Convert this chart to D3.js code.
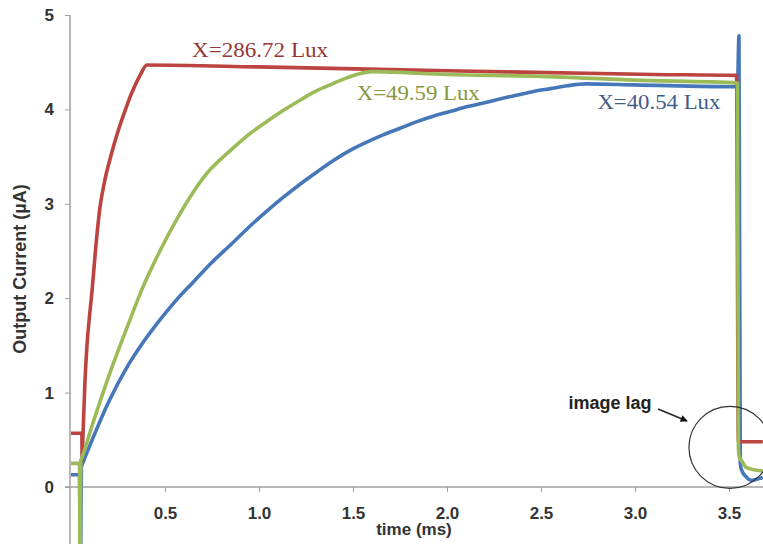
<!DOCTYPE html>
<html>
<head>
<meta charset="utf-8">
<script src="https://cdn.jsdelivr.net/npm/d3@7"></script>
<style>
  body { margin: 0; background: #fff; }
  .tick text { font-family: "Liberation Sans", Arial, sans-serif; font-weight: bold; font-size: 17px; fill: #333; }
</style>
</head>
<body>
<script>
// time (ms) , current (uA)
const red286 = [
  [0, 0.57], [0.058, 0.57], [0.059, 0.28], [0.062, 0.45], [0.065, 0.62], [0.074, 1.1], [0.085, 1.5],
  [0.098, 1.8], [0.112, 2.08], [0.13, 2.5], [0.154, 2.96], [0.18, 3.25], [0.207, 3.47],
  [0.235, 3.67], [0.26, 3.83], [0.29, 4.0], [0.314, 4.13], [0.34, 4.25], [0.367, 4.36],
  [0.404, 4.47], [1.0, 4.45], [2.0, 4.41], [3.1, 4.37], [3.54, 4.36], [3.55, 0.48], [3.68, 0.48]
];
const green49 = [
  [0, 0.25], [0.045, 0.25], [0.048, -0.9], [0.052, 0.28], [0.056, 0.3], [0.117, 0.68], [0.207, 1.21],
  [0.298, 1.69], [0.383, 2.12], [0.473, 2.5], [0.564, 2.84], [0.649, 3.12], [0.739, 3.36],
  [0.79, 3.46], [0.862, 3.59], [0.95, 3.74], [1.04, 3.87], [1.13, 3.99], [1.22, 4.1],
  [1.3, 4.19], [1.39, 4.27], [1.45, 4.32], [1.52, 4.37], [1.6, 4.4], [2.0, 4.37],
  [2.5, 4.35], [3.0, 4.31], [3.545, 4.28], [3.55, 0.4], [3.555, 0.32], [3.57, 0.27],
  [3.59, 0.21], [3.64, 0.18], [3.68, 0.17]
];
const blue40 = [
  [0, 0.13], [0.045, 0.13], [0.05, -0.9], [0.056, 0.22], [0.06, 0.24], [0.117, 0.52], [0.2, 0.9],
  [0.298, 1.27], [0.383, 1.53], [0.473, 1.77], [0.56, 1.98], [0.65, 2.17], [0.75, 2.38],
  [0.862, 2.59], [0.95, 2.76], [1.04, 2.92], [1.13, 3.07], [1.22, 3.21], [1.31, 3.34],
  [1.39, 3.45], [1.48, 3.56], [1.57, 3.65], [1.66, 3.73], [1.75, 3.8], [1.84, 3.87],
  [1.93, 3.93], [2.02, 3.98], [2.11, 4.03], [2.2, 4.07], [2.28, 4.11], [2.37, 4.15],
  [2.46, 4.19], [2.55, 4.22], [2.64, 4.25], [2.74, 4.27], [3.0, 4.26], [3.545, 4.24],
  [3.553, 4.78], [3.56, 0.25], [3.567, 0.18], [3.59, 0.11], [3.62, 0.07], [3.66, 0.09], [3.68, 0.1]
];
const xTicks = [0.5, 1.0, 1.5, 2.0, 2.5, 3.0, 3.5];
const yTicks = [0, 1, 2, 3, 4, 5];
const seriesLabels = ["X=286.72 Lux", "X=49.59 Lux", "X=40.54 Lux"];

let svg = d3.select('body')
      .append('svg')
      .attr('width', 763)
      .attr('height', 544);

let x = d3.scaleLinear().domain([0, 3.5]).range([71, 729]);
let y = d3.scaleLinear().domain([0, 5]).range([487, 15]);

// y axis, line runs down past zero to the bottom of the picture
let yAxisG = svg.append('g')
      .attr('transform', 'translate(70,0)')
      .call(d3.axisLeft(y).tickValues(yTicks).tickFormat(d3.format('d'))
            .tickSize(5).tickSizeOuter(0).tickPadding(11));
yAxisG.select('.domain').attr('d', `M0,${y(5)}V544`);

// x axis along zero
let xAxisG = svg.append('g')
      .attr('transform', `translate(0,${y(0)})`)
      .call(d3.axisBottom(x).tickValues(xTicks).tickFormat(d3.format('.1f'))
            .tickSize(5).tickSizeOuter(0).tickPadding(15));
xAxisG.select('.domain').attr('d', 'M65,0H763');

svg.selectAll('.domain').style('stroke', '#a0a0a0').style('stroke-width', 1.5);
svg.selectAll('.tick line').style('stroke', '#a0a0a0');

svg.append('text')
  .attr('x', 414).attr('y', 535)
  .attr('text-anchor', 'middle')
  .style('font-family', '"Liberation Sans", Arial, sans-serif')
  .style('font-weight', 'bold').style('font-size', '17px').style('fill', '#333')
  .text('time (ms)');

svg.append('text')
  .attr('transform', 'translate(26,269) rotate(-90)')
  .attr('text-anchor', 'middle')
  .style('font-family', '"Liberation Sans", Arial, sans-serif')
  .style('font-weight', 'bold').style('font-size', '18px').style('fill', '#333')
  .text('Output Current (µA)');

function draw(points, colour){
  let lineDrawer = d3.line()
        .curve(d3.curveMonotoneX)
        .x(d => x(d[0]))
        .y(d => y(d[1]));

  svg.append('path')
    .style('fill', 'none')
    .style('stroke', colour)
    .style('stroke-width', 3.6)
    .style('stroke-linejoin', 'round')
    .attr('d', lineDrawer(points));
}

draw(blue40, '#4677b8');
draw(red286, '#bb4340');
draw(green49, '#9bbb59');

// trace labels
let labelFont = '"Liberation Serif", "Times New Roman", serif';
svg.append('text').attr('x', x(0.644)).attr('y', y(4.55))
  .attr('textLength', 136).attr('lengthAdjust', 'spacingAndGlyphs')
  .style('font-family', labelFont).style('font-size', '20px').style('fill', '#953735')
  .text(seriesLabels[0]);
svg.append('text').attr('x', x(1.52)).attr('y', y(4.1))
  .attr('textLength', 123).attr('lengthAdjust', 'spacingAndGlyphs')
  .style('font-family', labelFont).style('font-size', '20px').style('fill', '#86983c')
  .text(seriesLabels[1]);
svg.append('text').attr('x', x(2.8))
  .attr('y', y(4.0))
  .attr('textLength', 123).attr('lengthAdjust', 'spacingAndGlyphs')
  .style('font-family', labelFont).style('font-size', '20px').style('fill', '#3f5c86')
  .text(seriesLabels[2]);

// image lag annotation
svg.append('defs').append('marker')
  .attr('id', 'arrow')
  .attr('viewBox', '0 0 10 10')
  .attr('refX', 9).attr('refY', 5)
  .attr('markerWidth', 9).attr('markerHeight', 7)
  .attr('markerUnits', 'userSpaceOnUse')
  .attr('orient', 'auto')
  .append('path').attr('d', 'M0,0L10,5L0,10z').style('fill', '#111');

svg.append('circle')
  .attr('cx', x(3.505)).attr('cy', y(0.42)).attr('r', 41)
  .style('fill', 'none').style('stroke', '#333').style('stroke-width', 1.2);

svg.append('text')
  .attr('x', 610).attr('y', 409)
  .attr('text-anchor', 'middle')
  .style('font-family', '"Liberation Sans", Arial, sans-serif')
  .style('font-weight', 'bold').style('font-size', '18px').style('fill', '#222')
  .text('image lag');

svg.append('line')
  .attr('x1', 658).attr('y1', 409).attr('x2', 687).attr('y2', 421)
  .style('stroke', '#222').style('stroke-width', 1.5)
  .attr('marker-end', 'url(#arrow)');
</script>
</body>
</html>
